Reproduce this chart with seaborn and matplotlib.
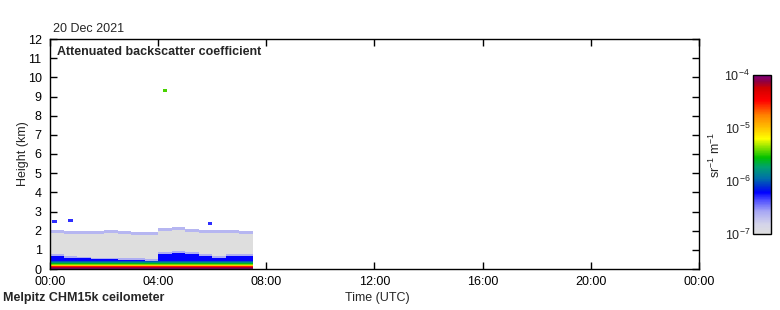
import numpy as np
import pandas as pd
import matplotlib
matplotlib.use("Agg")
import matplotlib.pyplot as plt
import seaborn as sns
from matplotlib.colors import LogNorm, LinearSegmentedColormap

# ---------------- data ----------------
block_start_h = [0.0, 0.5, 1.0, 1.5, 2.0, 2.5, 3.0, 3.5, 4.0, 4.5, 5.0, 5.5, 6.0, 6.5, 7.0]
bl_top_km = [0.68, 0.62, 0.55, 0.50, 0.48, 0.47, 0.45, 0.42, 0.80, 0.85, 0.80, 0.72, 0.62, 0.68, 0.70]
noise_top_km = [2.05, 2.00, 2.00, 2.00, 2.05, 2.00, 1.95, 1.95, 2.15, 2.20, 2.10, 2.05, 2.05, 2.05, 2.00]
profile_top_km = [0.05, 0.10, 0.15, 0.20, 0.25, 0.30, 0.35, 0.40]
profile_beta = [9e-5, 7e-5, 3e-5, 1e-5, 4e-6, 2.5e-6, 1.5e-6, 1e-6]
bl_beta = 6e-7
bl_edge_beta = 2.5e-7
noise_beta = 1.0e-7
noise_edge_beta = 2.2e-7
spot_time_h = [0.15, 0.67, 5.88, 4.18]
spot_height_km = [2.45, 2.55, 2.40, 9.32]
spot_beta = [5e-7, 5e-7, 5e-7, 3.5e-6]

x_tick_h = [0, 4, 8, 12, 16, 20, 24]
x_tick_labels = ["00:00", "04:00", "08:00", "12:00", "16:00", "20:00", "00:00"]
y_tick_km = list(range(0, 13))
cbar_ticks = [1e-7, 1e-6, 1e-5, 1e-4]
cbar_labels = ["$10^{-7}$", "$10^{-6}$", "$10^{-5}$", "$10^{-4}$"]

# ---------------- grid ----------------
dz = 0.05
nz = 240
dt = 1.0 / 12.0
nt = 288
block_len = 0.5
grid = np.full((nz, nt), np.nan)
for j in range(nt):
    t = (j + 0.5) * dt
    b = int(t // block_len)
    if b >= len(block_start_h):
        continue
    for i in range(nz):
        z = (i + 0.5) * dz
        if z > noise_top_km[b]:
            continue
        val = None
        for top, beta in zip(profile_top_km, profile_beta):
            if z < top:
                val = beta
                break
        if val is None:
            if z < bl_top_km[b]:
                val = bl_beta
            elif z < bl_top_km[b] + 0.1:
                val = bl_edge_beta
            elif z > noise_top_km[b] - 0.15:
                val = noise_edge_beta
            else:
                val = noise_beta
        grid[i, j] = val
for th, zh, bv in zip(spot_time_h, spot_height_km, spot_beta):
    jj = int(th / dt)
    ii = int(zh / dz)
    grid[ii - 1:ii + 2, jj:jj + 2] = bv

df = pd.DataFrame(grid)

# ---------------- colour map ----------------
stops = [
    (0.00, "#dedede"), (0.06, "#d4d4ea"), (0.14, "#a8a8f4"), (0.21, "#5050ff"),
    (0.26, "#0000ff"), (0.30, "#0030d0"), (0.35, "#0070a8"), (0.42, "#00a070"),
    (0.48, "#00c000"), (0.54, "#80e000"), (0.60, "#ffff00"), (0.67, "#ffc000"),
    (0.75, "#ff8000"), (0.84, "#ff0000"), (0.92, "#d00000"), (0.96, "#900040"),
    (1.00, "#800080"),
]
cmap = LinearSegmentedColormap.from_list("ceilo", stops, N=256)
norm = LogNorm(vmin=1e-7, vmax=1e-4)

# ---------------- figure ----------------
sns.set_style("ticks")
plt.rcParams["font.family"] = ["Liberation Sans", "DejaVu Sans"]
plt.rcParams["mathtext.fontset"] = "custom"
plt.rcParams["mathtext.rm"] = "Liberation Sans"
FS = 9

fig = plt.figure(figsize=(7.8, 3.1), dpi=100)
W, H = 780, 310
ax = fig.add_axes([50 / W, 1 - 269 / H, 649 / W, 230 / H])
cax = fig.add_axes([753 / W, 1 - 234 / H, 18 / W, 159 / H])

sns.heatmap(df, ax=ax, cmap=cmap, norm=norm, cbar_ax=cax,
            xticklabels=False, yticklabels=False, linewidths=0, rasterized=True)

ax.set_xlim(0, nt)
ax.set_ylim(0, nz)
ax.set_xticks([h / dt for h in x_tick_h])
ax.set_xticklabels(x_tick_labels, fontsize=FS)
ax.set_yticks([k / dz for k in y_tick_km])
ax.set_yticklabels([str(k) for k in y_tick_km], fontsize=FS)
ax.tick_params(axis="both", direction="in", length=5, width=1, color="black",
               top=True, right=True, labelcolor="black")
ax.tick_params(axis="y", pad=6)
ax.tick_params(axis="x", pad=5)
for s in ax.spines.values():
    s.set_visible(True)
    s.set_linewidth(1)
    s.set_color("black")
ax.set_xlabel("")
ax.set_ylabel("Height (km)", fontsize=FS)
ax.yaxis.set_label_coords(-0.032, 0.5)

cb = ax.collections[0].colorbar
cb.set_ticks(cbar_ticks)
cb.set_ticklabels(cbar_labels)
cb.ax.minorticks_off()
cb.ax.yaxis.set_ticks_position("left")
cb.ax.yaxis.set_label_position("left")
cb.ax.tick_params(length=0, labelsize=FS, pad=2)
cb.outline.set_visible(True)
cb.outline.set_linewidth(1)
cb.outline.set_edgecolor("black")
cb.set_label("sr$^{-1}$ m$^{-1}$", fontsize=FS, labelpad=1)

fig.text(53 / W, 1 - 32 / H, "20 Dec 2021", fontsize=FS, va="baseline", ha="left")
fig.text(57 / W, 1 - 55 / H, "Attenuated backscatter coefficient", fontsize=FS,
         fontweight="bold", va="baseline", ha="left")
fig.text(3 / W, 1 - 301 / H, "Melpitz CHM15k ceilometer", fontsize=FS,
         fontweight="bold", va="baseline", ha="left")
fig.text(345 / W, 1 - 301 / H, "Time (UTC)", fontsize=FS, va="baseline", ha="left")

fig.savefig("out.png", dpi=100)
